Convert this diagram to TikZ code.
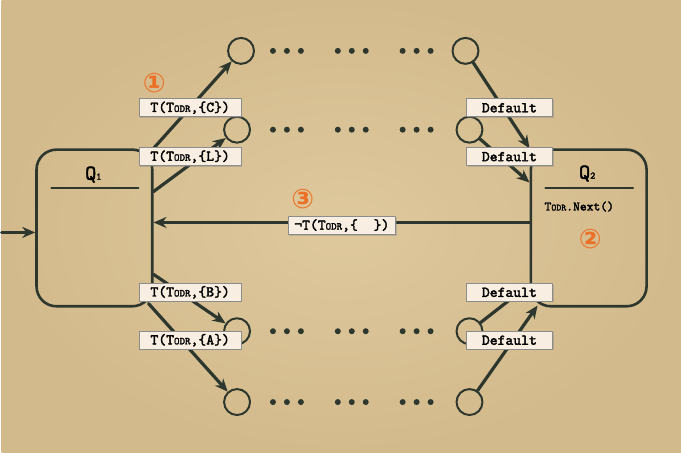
\documentclass[tikz,border=0pt]{standalone}
\usepackage{fontspec}
\newfontfamily\symfont{DejaVu Sans}
\newfontfamily\lblfont{lmmono10-regular}[Extension=.otf,FakeBold=2.2]
\usepackage{tikz}
\usetikzlibrary{arrows.meta}
\usetikzlibrary{shadows}

\definecolor{parchin}{RGB}{222,201,157}
\definecolor{parchout}{RGB}{211,186,140}
\definecolor{ink}{RGB}{45,55,45}
\definecolor{orng}{RGB}{236,112,38}
\definecolor{tagfill}{RGB}{248,238,226}

\newcommand\todr[1][10.5]{T{\fontsize{#1}{#1}\selectfont ODR}}

\begin{document}
\begin{tikzpicture}[line cap=round,line join=round,x=1pt,y=-1pt,
        state/.style={draw=ink,line width=2.6pt,rounded corners=20pt,
            minimum width=116pt,minimum height=157pt},
        sub/.style={draw=ink,line width=2pt,circle,minimum size=26pt,inner sep=0pt},
        tr/.style={draw=ink,line width=3.2pt,-{Stealth[length=13pt,width=11pt]}},
        lbl/.style={draw=black!45,fill=tagfill,line width=.6pt,inner xsep=0pt,inner ysep=0pt,
            minimum width=102pt,minimum height=18pt,
            font=\lblfont\fontsize{15}{15}\selectfont,
            drop shadow={shadow xshift=1.2pt,shadow yshift=-1.2pt,opacity=.35}},
        dflt/.style={lbl,minimum width=86pt},
        numtag/.style={text=orng,font=\symfont\bfseries\fontsize{27}{27}\selectfont},
        title/.style={font=\lblfont\fontsize{21}{21}\selectfont}]
        \shade[inner color=parchin,outer color=parchout] (0,0) rectangle (681,454);

        % the two states
        \node[state] (Q1) at (93,228.5) {};
        \node[state] (Q2) at (588.5,228.5) {};
        \node[title] (q1) at (92,175) {Q{\fontsize{10}{10}\selectfont 1}};
        \node[title] (q2) at (587,174) {Q{\fontsize{10}{10}\selectfont 2}};
        \draw[ink,line width=2pt] (50,188) -- (137,188);
        \draw[ink,line width=2pt] (545,188) -- (633,188);
        \node[font=\lblfont\fontsize{13}{13}\selectfont] (nx) at (579,207) {\todr[9.5].Next()};

        % sub-states with dots in between
        \node[sub] (a1) at (240,51) {};
        \node[sub] (b1) at (465,51) {};
        \node[sub] (a2) at (236,130) {};
        \node[sub] (b2) at (469,130) {};
        \node[sub] (a3) at (236,332) {};
        \node[sub] (b3) at (469,332) {};
        \node[sub] (a4) at (236,403) {};
        \node[sub] (b4) at (469,403) {};
        \foreach \y in {51,130,332,403}
            \foreach \x in {272,286,300,337,351,365,402,416,430}
                \fill[ink] (\x,\y) circle (3pt);

        % transitions
        \coordinate (in) at (0,233);
        \draw[tr] (in) -- (in -| Q1.west);
        \draw[tr] (Q1.north east) -- (a1);
        \draw[tr] ([yshift=36.5pt]Q1.east) -- (a2);
        \draw[tr] ([yshift=-46.5pt]Q1.east) -- (a3);
        \draw[tr] ([shift={(-5pt,4pt)}]Q1.south east) -- (a4);
        \draw[tr] (b1) -- (Q2.north west);
        \draw[tr] (b2) -- ([yshift=45.5pt]Q2.west);
        \draw[tr] (b3) -- ([yshift=-56.5pt]Q2.west);
        \draw[tr] (b4) -- ([shift={(8pt,2pt)}]Q2.south west);
        \draw[tr] ([yshift=5.5pt]Q2.west) -- ([yshift=5.5pt]Q1.east);

        % labels
        \node[lbl] (tC) at (189,108) {T(\todr,\{C\})};
        \node[lbl] (tL) at (189,157) {T(\todr,\{L\})};
        \node[lbl] (tB) at (189,293) {T(\todr,\{B\})};
        \node[lbl] (tA) at (189,341) {T(\todr,\{A\})};
        \node[lbl,minimum width=108pt] (tN) at (341,226) {¬T(\todr,\{\ \ \})};
        \node[dflt] (d1) at (509,108) {Default};
        \node[dflt] (d2) at (509,157) {Default};
        \node[dflt] (d3) at (509,293) {Default};
        \node[dflt] (d4) at (509,341) {Default};

        \node[numtag] (n1) at (153,83) {①};
        \node[numtag] (n2) at (590,240) {②};
        \node[numtag] (n3) at (302,200) {③};
    \end{tikzpicture}
\end{document}
